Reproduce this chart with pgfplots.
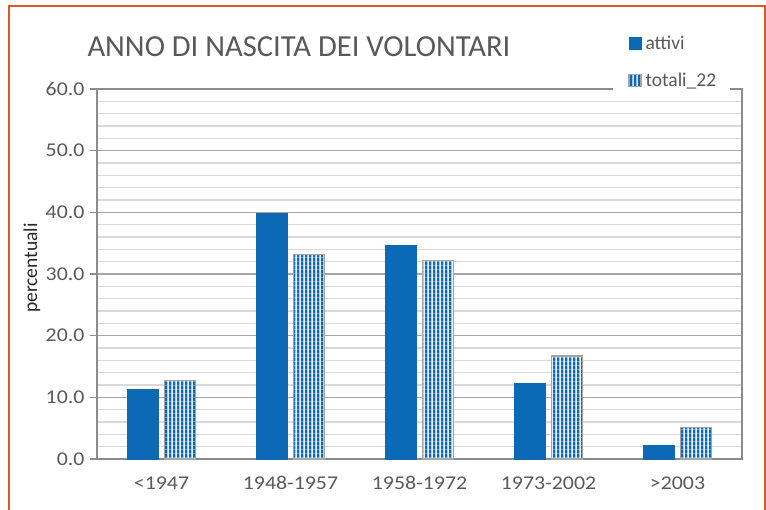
\documentclass[border=0pt]{standalone}
\usepackage{fontspec}
\setmainfont{Carlito}
\newfontfamily\tickfont{Carlito}[FakeStretch=1.12]
\usepackage{pgfplots}
\pgfplotsset{compat=1.18}
\usetikzlibrary{patterns.meta}

\definecolor{barblue}{RGB}{11,105,181}
\definecolor{ltblue}{RGB}{120,172,222}
\definecolor{edgegray}{RGB}{165,165,165}
\definecolor{axisgray}{RGB}{140,140,140}
\definecolor{majgrid}{RGB}{166,166,166}
\definecolor{mingrid}{RGB}{217,217,217}
\definecolor{labgray}{RGB}{89,89,89}
\definecolor{framecol}{RGB}{213,92,36}

\tikzdeclarepattern{
  name=stripes,
  type=colored,
  bottom left={(0pt,0pt)},
  top right={(3.75pt,3.75pt)},
  tile size={(3.75pt,3.75pt)},
  code={
    \fill[white] (0pt,0pt) rectangle (3.75pt,3.75pt);
    \fill[barblue] (0pt,0pt) rectangle (2pt,3.75pt);
    \fill[ltblue] (2.45pt,0pt) rectangle (3.3pt,3.75pt);
  }
}

\pgfplotsset{
  sqlegend/.style={legend image code/.code={
      \path (0pt,0pt) (17pt,0pt);
      \draw[##1] (3pt,-6pt) rectangle (15pt,6pt);}},
}

\begin{document}
\begin{tikzpicture}
\useasboundingbox (0,0) rectangle (766pt,-509pt);
\draw[framecol, line width=1.6pt] (9pt,-520pt) -- (9pt,-6pt) -- (765pt,-6pt) -- (765pt,-520pt);
\begin{axis}[
    at={(97pt,-459pt)}, anchor=south west,
    scale only axis, width=645pt, height=370pt,
    ybar=6pt, bar width=31pt,
    xmin=-0.5, xmax=4.5, ymin=0, ymax=60,
    xtick={0,1,2,3,4},
    xticklabels={<1947, 1948-1957, 1958-1972, 1973-2002, >2003},
    ytick={0,10,...,60}, minor y tick num=4,
    ymajorgrids, yminorgrids,
    major grid style={draw=majgrid, line width=1.3pt},
    minor grid style={draw=mingrid, line width=1.3pt},
    axis line style={draw=axisgray, line width=1.3pt},
    xtick style={draw=none},
    ytick pos=left, tick align=outside,
    major tick length=7pt, minor tick length=0pt,
    ytick style={draw=axisgray, line width=1.3pt},
    tick label style={font=\tickfont\fontsize{19.5}{23}\selectfont, text=labgray},
    xticklabel style={yshift=-7pt},
    yticklabel style={xshift=-2pt, /pgf/number format/.cd, fixed, fixed zerofill, precision=1, assume math mode=true},
    ylabel={percentuali},
    ylabel style={at={(rel axis cs:-0.093,0.516)}, anchor=base, font=\fontsize{19.5}{23}\selectfont, text=black!85},
    title={ANNO DI NASCITA DEI VOLONTARI},
    title style={at={(rel axis cs:-0.0202,1.073)}, anchor=base west, font=\fontsize{30.6}{36}\selectfont, text=labgray},
    legend style={at={(rel axis cs:0.8,1.1662)}, anchor=north west, draw=none, fill=white,
        font=\fontsize{19.5}{23}\selectfont, text=labgray, row sep=18pt,
        inner xsep=12pt, inner ysep=6pt},
    legend cell align=left,
]
\addplot[fill=barblue, draw=barblue, line width=0.6pt, sqlegend]
    coordinates {(0,11.3) (1,39.8) (2,34.6) (3,12.2) (4,2.2)};
\addplot[pattern=stripes, draw=edgegray, line width=1.3pt, sqlegend]
    coordinates {(0,12.7) (1,33.2) (2,32.2) (3,16.7) (4,5.1)};
\legend{attivi, totali\_22}
\end{axis}
\end{tikzpicture}
\end{document}
